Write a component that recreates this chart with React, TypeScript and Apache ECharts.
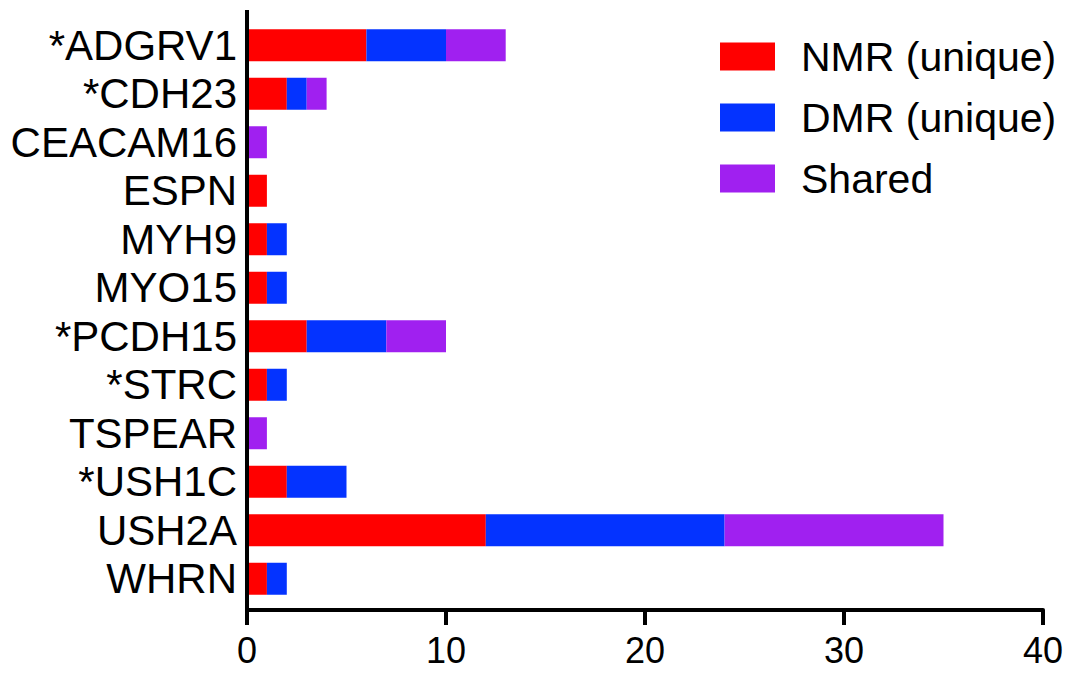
import React, { useEffect, useRef } from "react";
import * as echarts from "echarts";

const categories = ["*ADGRV1", "*CDH23", "CEACAM16", "ESPN", "MYH9", "MYO15", "*PCDH15", "*STRC", "TSPEAR", "*USH1C", "USH2A", "WHRN"];
const nmrUnique = [6, 2, 0, 1, 1, 1, 3, 1, 0, 2, 12, 1];
const dmrUnique = [4, 1, 0, 0, 1, 1, 4, 1, 0, 3, 12, 1];
const shared = [3, 1, 1, 0, 0, 0, 3, 0, 1, 0, 11, 0];
const seriesNames = ["NMR (unique)", "DMR (unique)", "Shared"];
const colors = ["#FF0000", "#0433FF", "#A020F0"];
const xTicks = { min: 0, max: 40, interval: 10 };

const FONT = "Arial, 'Liberation Sans', Helvetica, sans-serif";

export default function App() {
  const ref = useRef<HTMLDivElement>(null);
  useEffect(() => {
    document.body.style.margin = "0";
    const chart = echarts.init(ref.current!, null, { renderer: "svg" });
    const values = [nmrUnique, dmrUnique, shared];
    chart.setOption({
      animation: false,
      backgroundColor: "#ffffff",
      grid: { left: 247, top: 21, width: 796, height: 582, containLabel: false },
      legend: {
        orient: "vertical",
        left: 715,
        top: 31,
        itemWidth: 55,
        itemHeight: 28,
        itemGap: 20,
        icon: "rect",
        data: seriesNames,
        textStyle: { fontSize: 41, fontFamily: FONT, color: "#000", lineHeight: 41, padding: [0, 0, 0, 21] },
      },
      xAxis: {
        type: "value",
        min: xTicks.min,
        max: xTicks.max,
        interval: xTicks.interval,
        position: "bottom",
        offset: 7,
        axisLine: { show: true, lineStyle: { color: "#000", width: 4 } },
        axisTick: { show: true, length: 15, lineStyle: { color: "#000", width: 4 } },
        splitLine: { show: false },
        axisLabel: { fontSize: 36, fontFamily: FONT, color: "#000", margin: 22 },
      },
      yAxis: {
        type: "category",
        inverse: true,
        data: categories,
        axisLine: { show: false },
        axisTick: { show: false },
        axisLabel: { interval: 0, fontSize: 42, fontFamily: FONT, color: "#000", margin: 10 },
      },
      graphic: [
        {
          type: "line",
          z: 100,
          shape: { x1: 247, y1: 10, x2: 247, y2: 625 },
          style: { stroke: "#000", lineWidth: 4 },
        },
      ],
      series: seriesNames.map((name, i) => ({
        name,
        type: "bar",
        stack: "total",
        barWidth: 32,
        itemStyle: { color: colors[i] },
        data: values[i],
      })),
    });
    return () => chart.dispose();
  }, []);
  return <div ref={ref} style={{ width: 1067, height: 673 }} />;
}
